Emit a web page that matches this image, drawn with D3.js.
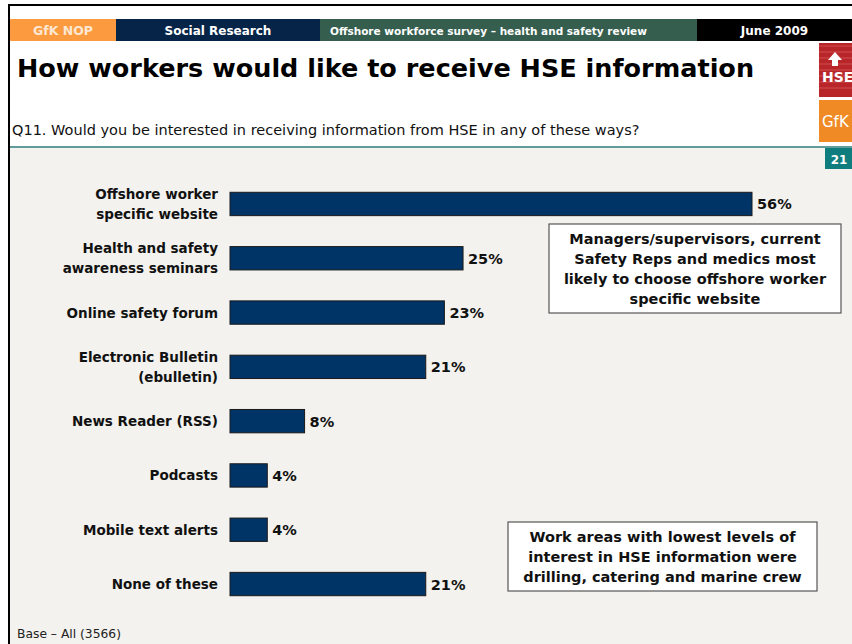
<!DOCTYPE html>
<html>
<head>
<meta charset="utf-8">
<script src="https://cdn.jsdelivr.net/npm/d3@7"></script>
<style>
  html, body { margin: 0; padding: 0; background: #ffffff; }
  svg { display: block; }
  text { font-family: "DejaVu Sans", Verdana, sans-serif; }
</style>
</head>
<body>
<svg id="chart" width="852" height="644"></svg>
<script>
// Survey answers to Q11, percentage of all respondents
const categories = [
  ["Offshore worker", "specific website"],
  ["Health and safety", "awareness seminars"],
  ["Online safety forum"],
  ["Electronic Bulletin", "(ebulletin)"],
  ["News Reader (RSS)"],
  ["Podcasts"],
  ["Mobile text alerts"],
  ["None of these"]
];
const values = [56, 25, 23, 21, 8, 4, 4, 21];

const headerSegments = [
  { text: "GfK NOP", x0: 10, x1: 116, fill: "#fb9a3e", color: "#fde7d2", anchor: "middle", size: 12.5 },
  { text: "Social Research", x0: 116, x1: 320, fill: "#052447", color: "#ffffff", anchor: "middle", size: 12 },
  { text: "Offshore workforce survey – health and safety review", x0: 320, x1: 697, fill: "#355e4e", color: "#ffffff", anchor: "start", size: 10.5 },
  { text: "June 2009", x0: 697, x1: 852, fill: "#000000", color: "#ffffff", anchor: "middle", size: 12 }
];

const noteTop = ["Managers/supervisors, current", "Safety Reps and medics most", "likely to choose offshore worker", "specific website"];
const noteBottom = ["Work areas with lowest levels of", "interest in HSE information were", "drilling, catering and marine crew"];

const svg = d3.select("#chart");

// page background and frame
svg.append("rect").attr("x", 0).attr("y", 0).attr("width", 852).attr("height", 644).attr("fill", "#ffffff");
svg.append("rect").attr("x", 10).attr("y", 148).attr("width", 842).attr("height", 496).attr("fill", "#f3f2ee");
svg.append("line").attr("x1", 8).attr("x2", 852).attr("y1", 5).attr("y2", 5).attr("stroke", "#000").attr("stroke-width", 2);
svg.append("line").attr("x1", 9).attr("x2", 9).attr("y1", 4).attr("y2", 644).attr("stroke", "#000").attr("stroke-width", 2);
svg.append("line").attr("x1", 10).attr("x2", 852).attr("y1", 147).attr("y2", 147).attr("stroke", "#2c7a7b").attr("stroke-width", 1.5);

// header band
const hdr = svg.append("g");
headerSegments.forEach(s => {
  hdr.append("rect").attr("x", s.x0).attr("y", 19).attr("width", s.x1 - s.x0).attr("height", 22).attr("fill", s.fill);
  hdr.append("text")
    .attr("x", s.anchor === "middle" ? (s.x0 + s.x1) / 2 : s.x0 + 10)
    .attr("y", 35)
    .attr("text-anchor", s.anchor)
    .attr("font-size", s.size)
    .attr("font-weight", "bold")
    .attr("fill", s.color)
    .text(s.text);
});

// logos
svg.append("rect").attr("x", 819).attr("y", 43).attr("width", 33).attr("height", 54).attr("fill", "#b8262a");
for (let i = 0; i < 8; i++) {
  svg.append("line").attr("x1", 819).attr("x2", 852).attr("y1", 46 + i * 6).attr("y2", 46 + i * 6)
    .attr("stroke", "#d04c4c").attr("stroke-width", 1);
}
svg.append("path").attr("d", "M835,52 L842,60 L838,60 L838,66 L832,66 L832,60 L828,60 Z").attr("fill", "#ffffff");
svg.append("text").attr("x", 822).attr("y", 82).attr("font-size", 14).attr("font-weight", "bold").attr("fill", "#ffffff").text("HSE");
svg.append("rect").attr("x", 819).attr("y", 100).attr("width", 33).attr("height", 42).attr("fill", "#ef8a25");
svg.append("text").attr("x", 822).attr("y", 127).attr("font-size", 15).attr("fill", "#ffffff").text("GfK");
svg.append("rect").attr("x", 825).attr("y", 148).attr("width", 27).attr("height", 21).attr("fill", "#0f7d7d");
svg.append("text").attr("x", 839).attr("y", 164).attr("text-anchor", "middle").attr("font-size", 12).attr("font-weight", "bold").attr("fill", "#ffffff").text("21");

// title and question
svg.append("text").attr("x", 17).attr("y", 77).attr("font-size", 25.5).attr("font-weight", "bold").attr("fill", "#000").text("How workers would like to receive HSE information");
svg.append("text").attr("x", 12).attr("y", 135).attr("font-size", 14.5).attr("fill", "#111").text("Q11. Would you be interested in receiving information from HSE in any of these ways?");

// scales
const x = d3.scaleLinear().domain([0, 56]).range([230, 752]);
const y = d3.scaleBand().domain(d3.range(categories.length)).range([176, 612]).paddingInner(0.57).paddingOuter(0.3);

const bars = svg.append("g");
bars.selectAll("rect").data(values).join("rect")
  .attr("x", x(0))
  .attr("y", (d, i) => y(i))
  .attr("width", d => x(d) - x(0))
  .attr("height", y.bandwidth())
  .attr("fill", "#003366")
  .attr("stroke", "#1a1a1a")
  .attr("stroke-width", 1);

bars.selectAll("text.val").data(values).join("text")
  .attr("class", "val")
  .attr("x", d => x(d) + 5)
  .attr("y", (d, i) => y(i) + y.bandwidth() / 2 + 5.5)
  .attr("font-size", 14.5)
  .attr("font-weight", "bold")
  .attr("fill", "#111")
  .text(d => d + "%");

// category labels
const lab = svg.append("g");
categories.forEach((lines, i) => {
  const cy = y(i) + y.bandwidth() / 2;
  const lh = 20;
  const t = lab.append("text").attr("text-anchor", "end").attr("font-size", 13.5).attr("font-weight", "bold").attr("fill", "#111");
  lines.forEach((ln, j) => {
    t.append("tspan").attr("x", 218).attr("y", cy + 5 + (j - (lines.length - 1) / 2) * lh).text(ln);
  });
});

// annotation boxes
function note(lines, x0, y0, w, h) {
  const g = svg.append("g");
  g.append("rect").attr("x", x0).attr("y", y0).attr("width", w).attr("height", h)
    .attr("fill", "#ffffff").attr("stroke", "#555").attr("stroke-width", 1.2);
  const lh = 20;
  const cy = y0 + h / 2;
  const t = g.append("text").attr("text-anchor", "middle").attr("font-size", 14.5).attr("font-weight", "bold").attr("fill", "#111");
  lines.forEach((ln, j) => {
    t.append("tspan").attr("x", x0 + w / 2).attr("y", cy + 5 + (j - (lines.length - 1) / 2) * lh).text(ln);
  });
}
note(noteTop, 549, 224, 292, 89);
note(noteBottom, 508, 522, 309, 69);

svg.append("text").attr("x", 17).attr("y", 638).attr("font-size", 12.3).attr("fill", "#222").text("Base – All (3566)");
</script>
</body>
</html>
